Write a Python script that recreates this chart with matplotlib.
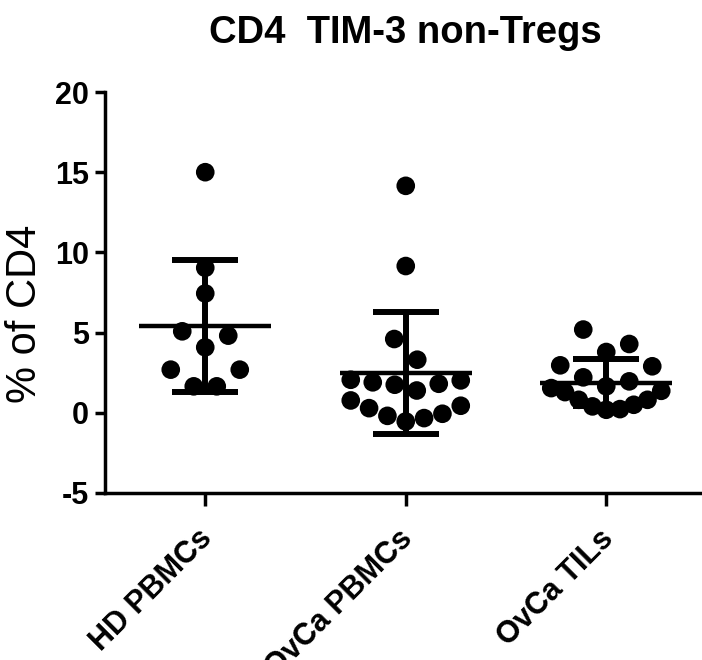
import numpy as np
import matplotlib
matplotlib.use("Agg")
import matplotlib.pyplot as plt
from matplotlib.transforms import ScaledTranslation

# ---- data -------------------------------------------------------------
groups = ["HD PBMCs", "OvCa PBMCs", "OvCa TILs"]
hd_pbmcs = [15.0, 9.04, 7.44, 5.08, 4.81, 4.08, 2.69, 2.69, 1.65, 1.65]
ovca_pbmcs = [14.15, 9.15, 4.6, 3.31, 2.06, 2.02, 1.9, 1.81, 1.75, 1.39,
              0.77, 0.44, 0.29, -0.06, -0.19, -0.33, -0.54]
ovca_tils = [5.19, 4.29, 3.79, 2.96, 2.90, 2.21, 1.96, 1.65, 1.54, 1.37,
             1.29, 0.81, 0.81, 0.5, 0.4, 0.23, 0.19]
yticks = [-5, 0, 5, 10, 15, 20]
title = "CD4  TIM-3 non-Tregs"
ylabel = "% of CD4"

series = [hd_pbmcs, ovca_pbmcs, ovca_tils]

plt.rcParams["font.family"] = ["Liberation Sans", "DejaVu Sans"]

W, H, DPI = 702, 660, 100
fig = plt.figure(figsize=(W / DPI, H / DPI), dpi=DPI)
ax = fig.add_axes([105 / W, (H - 493) / H, (W - 105) / W, (493 - 92) / H])
ax.set_xlim(-0.5, -0.5 + (W - 105) / 200.5)
ax.set_ylim(-5, 20)


def row_offsets(values, row_span=1.42, gap_px=23.0, max_half_px=55.0):
    """Scatter-dot layout: values are grouped into horizontal rows and each
    row is spread centre-out, lowest value in the middle."""
    values = np.asarray(values, dtype=float)
    order = np.argsort(values, kind="stable")
    offsets = np.zeros(len(values))
    i = 0
    while i < len(order):
        start = values[order[i]]
        j = i
        while j < len(order) and values[order[j]] - start <= row_span + 1e-9:
            j += 1
        row = order[i:j]
        n = len(row)
        gap = gap_px if n < 2 else min(gap_px, 2 * max_half_px / (n - 1))
        for k, idx in enumerate(row):
            if n % 2:
                slot = ((k + 1) // 2) * (1 if k % 2 else -1)
            else:
                slot = (k // 2 + 0.5) * (1 if k % 2 == 0 else -1)
            offsets[idx] = slot * gap
        i = j
    return offsets


px_per_x = ax.transData.transform((1, 0))[0] - ax.transData.transform((0, 0))[0]

means, sds = [], []
for gi, vals in enumerate(series):
    vals = np.asarray(vals, dtype=float)
    xs = gi + row_offsets(vals) / px_per_x
    ax.scatter(xs, vals, s=180, color="black", edgecolors="none", zorder=3)
    means.append(vals.mean())
    sds.append(vals.std(ddof=1))

xpos = np.arange(len(groups))
ax.hlines(means, xpos - 0.33, xpos + 0.33, color="black", linewidth=3.2,
          zorder=4)
ax.errorbar(xpos, means, yerr=sds, fmt="none", ecolor="black",
            elinewidth=4.3, capsize=24, capthick=4.3, zorder=4)

# ---- axes styling ------------------------------------------------------
for side in ("top", "right"):
    ax.spines[side].set_visible(False)
for side in ("left", "bottom"):
    ax.spines[side].set_linewidth(2.5)

ax.set_yticks(yticks)
ax.set_yticklabels([str(t) for t in yticks], fontsize=22, fontweight="bold")
ax.set_xticks(xpos)
ax.set_xticklabels(groups, fontsize=22, fontweight="bold", rotation=45,
                   ha="right", va="top", rotation_mode="anchor")
ax.tick_params(axis="y", length=7.5, width=2.5, pad=4)
ax.tick_params(axis="x", length=9, width=2.5, pad=13)
shift = ScaledTranslation(-8 / DPI, 0, fig.dpi_scale_trans)
for tick in ax.xaxis.get_major_ticks():
    tick.label1.set_transform(tick.label1.get_transform() + shift)

fig.text(25 / W, 1 - 314 / H, ylabel, fontsize=30, rotation=90,
         ha="center", va="center")
fig.text(405 / W, 1 - 33 / H, title, fontsize=27.5, fontweight="bold",
         ha="center", va="center")

fig.savefig("out.png", dpi=DPI)
